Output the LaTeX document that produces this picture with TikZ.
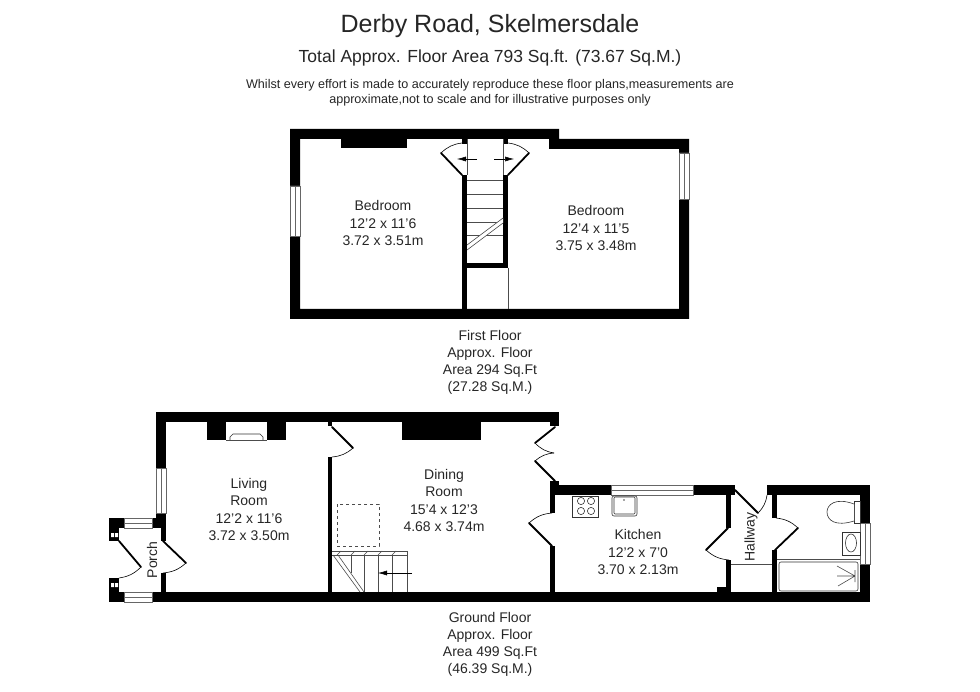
\documentclass[tikz,border=0pt]{standalone}
\usepackage{fontspec}
\setmainfont{Liberation Sans}
\usetikzlibrary{arrows.meta}
\tikzset{
  wall/.style={fill=black,draw=none},
  leaf/.style={line width=1.8pt,line cap=round},
  swing/.style={line width=0.6pt},
  glass/.style={fill=white,draw=black!60,line width=0.6pt},
  fitting/.style={draw=black!80,line width=0.6pt,fill=white},
  tread/.style={draw=black!70,line width=0.6pt},
  pointer/.style={-{Latex[length=9pt,width=5pt]},line width=0.5pt},
  label/.style={align=center,font=\fontsize{14}{17.2}\selectfont,text=black!85,inner sep=0pt}
}
\begin{document}
\begin{tikzpicture}[x=1pt,y=-1pt]
  \useasboundingbox (0,0) rectangle (980,692);

  % headings
  \node (title) [label,font=\fontsize{25}{29}\selectfont] at (490,26) {Derby Road, Skelmersdale};
  \node (area)  [label,font=\fontsize{17.5}{21}\selectfont] at (490,58) {Total Approx. Floor Area 793 Sq.ft. (73.67 Sq.M.)};
  \node (note)  [label,font=\fontsize{12.6}{15}\selectfont] at (490,92.5) {Whilst every effort is made to accurately reproduce these floor plans,measurements are\\approximate,not to scale and for illustrative purposes only};

  % first floor
  \fill[wall,even odd rule] (290,129) -- (559,129) -- (559,139) -- (689,139) -- (689,319) -- (290,319) -- cycle
        (300,139) -- (549,139) -- (549,149) -- (679,149) -- (679,309) -- (300,309) -- cycle;
  \fill[wall] (341,139) rectangle (407,148);
  \fill[wall] (462,139) rectangle (467,144);
  \fill[wall] (503,139) rectangle (508,144);
  \fill[wall] (462,175) rectangle (467,309);
  \fill[wall] (503,175) rectangle (508,268);
  \fill[wall] (467,263) rectangle (503,268);
  \draw[tread] (508,268) -- (508,309);
  \draw[glass] (290,186) rectangle (300,236) (295,186) -- (295,236);
  \draw[glass] (679,153) rectangle (689,199) (684,153) -- (684,199);
  \foreach \y in {180,194,208,222,235}
    \draw[tread] (467,\y) -- (503,\y);
  \draw[tread] (467,139) -- (467,175) (503,139) -- (503,175);
  \fill[white] (467,245) -- (503,218) -- (503,223) -- (467,250) -- cycle;
  \draw[tread] (467,245) -- (503,218) (467,250) -- (503,223);
  \draw[leaf] (462,175) -- (441,153);
  \draw[swing] (441,153) to[bend left=18] (462,143);
  \draw[leaf] (508,175) -- (529,153);
  \draw[swing] (529,153) to[bend right=18] (508,143);
  \draw[pointer] (477,159) -- (457,159);
  \draw[pointer] (494,159) -- (514,159);

  \node (bed1) [label] at (383,223) {Bedroom\\12'2 x 11'6\\3.72 x 3.51m};
  \node (bed2) [label] at (596,228) {Bedroom\\12'4 x 11'5\\3.75 x 3.48m};
  \node (first) [label] at (490,362.5) {First Floor\\Approx. Floor\\Area 294 Sq.Ft\\(27.28 Sq.M.)};

  % ground floor, outer walls
  \fill[wall] (156,412) rectangle (559,422);
  \fill[wall] (156,412) rectangle (166,528);
  \fill[wall] (161,528) rectangle (166,541);
  \fill[wall] (161,573) rectangle (166,592);
  \fill[wall] (109,592) rectangle (870,602);
  \fill[wall] (109,518) rectangle (166,528);
  \fill[wall] (109,528) rectangle (119,541);
  \fill[wall] (109,578) rectangle (119,592);
  \fill[white] (111,533) rectangle (114,537) (115,533) rectangle (118,537);
  \fill[white] (111,583) rectangle (114,587) (115,583) rectangle (118,587);
  \draw[glass] (156,468) rectangle (166,513) (161,468) -- (161,513);
  \draw[glass] (124,518) rectangle (152,528) (124,523) -- (152,523);
  \draw[glass] (124,592) rectangle (152,602) (124,597) -- (152,597);

  % living room
  \fill[wall] (207,422) rectangle (226,440);
  \fill[wall] (267,422) rectangle (286,440);
  \draw[fitting] (230,440) -- (230,437) to[bend left=20] (233,434) -- (260,434) to[bend left=20] (263,437) -- (263,440);
  \draw[tread] (226,440) -- (267,440);
  \fill[wall] (328,422) rectangle (332,426);
  \fill[wall] (328,457) rectangle (332,592);
  \draw[leaf] (332,427) -- (353,448);
  \draw[swing] (353,448) to[bend left=18] (332,457);
  \draw[leaf] (119,541) -- (141,567);
  \draw[swing] (141,567) to[bend left=18] (119,578);
  \draw[leaf] (163,541) -- (186,563);
  \draw[swing] (186,563) to[bend left=18] (163,573);

  \node (living) [label] at (249,509.5) {Living\\Room\\12'2 x 11'6\\3.72 x 3.50m};
  \node (porch) [label,rotate=90] at (152,560) {Porch};

  % dining room
  \fill[wall] (402,422) rectangle (481,440);
  \fill[wall] (550,422) rectangle (559,426);
  \fill[wall] (550,481) rectangle (559,495);
  \fill[wall] (550,495) rectangle (555,513);
  \fill[wall] (550,546) rectangle (555,592);
  \draw[leaf] (555,427) -- (535,443);
  \draw[swing] (535,443) to[bend right=18] (554,453);
  \draw[leaf] (555,481) -- (535,461);
  \draw[swing] (535,461) to[bend left=18] (554,453);
  \draw[leaf] (552,546) -- (529,523);
  \draw[swing] (529,523) to[bend left=18] (552,513);
  \draw[black!70,dashed,line width=0.7pt] (337,504) rectangle (379,546);
  \draw[tread] (332,551) -- (407,551) -- (407,592) (332,555) -- (407,555);
  \foreach \x in {337,351,364,378,392}
    \draw[tread] (\x,555) -- (\x+4,551);
  \foreach \x in {364,378,392}
    \draw[tread] (\x,555) -- (\x,592);
  \draw[tread] (351,555) -- (351,573);
  \draw[tread] (333,555) -- (360,592) (338,555) -- (364,592);
  \draw[pointer] (412,573) -- (378,573);

  \node (dining) [label] at (444,500.5) {Dining\\Room\\15'4 x 12'3\\4.68 x 3.74m};

  % kitchen
  \fill[wall] (550,485) rectangle (735,495);
  \draw[glass] (611,485) rectangle (693,495) (611,490) -- (693,490);
  \fill[wall] (726,495) rectangle (731,528);
  \fill[wall] (726,560) rectangle (731,592);
  \fill[wall] (717,587) rectangle (726,592);
  \draw[leaf] (728,528) -- (706,550);
  \draw[swing] (706,550) to[bend right=18] (729,560);
  \draw[fitting] (572,496) rectangle (598,517);
  \foreach \x in {581,591}
    \foreach \y in {501,511}
      \draw[fitting] (\x,\y) circle (3.6);
  \draw[fitting,rounded corners=2pt] (612,496) rectangle (637,516);
  \draw[fitting,rounded corners=1pt] (614,497) rectangle (635,514);
  \fill[black!70] (624,500) circle (0.9);

  \node (kitchen) [label] at (638,552) {Kitchen\\12'2 x 7'0\\3.70 x 2.13m};

  % hallway and bathroom
  \fill[wall] (767,485) rectangle (870,495);
  \fill[wall] (772,495) rectangle (777,518);
  \fill[wall] (772,550) rectangle (777,592);
  \fill[wall] (860,495) rectangle (870,523);
  \fill[wall] (860,564) rectangle (870,592);
  \draw[glass] (860,523) rectangle (870,564) (865,523) -- (865,564);
  \draw[leaf] (735,490) -- (758,513);
  \draw[swing] (758,513) to[bend right=18] (767,495);
  \draw[leaf] (775,550) -- (798,528);
  \draw[swing] (798,528) to[bend right=18] (776,518);
  \draw[tread] (731,564) -- (772,564);

  \draw[fitting] (854,501) rectangle (860,523);
  \draw[fitting] (854,504) .. controls (835,497) and (827,505) .. (827,512) .. controls (827,520) and (835,527) .. (854,521);
  \draw[fitting] (842,532) rectangle (860,555);
  \draw[fitting] (851,543) ellipse (5.5 and 9);
  \draw[tread] (777,559) -- (860,559);
  \draw[fitting,rounded corners=2pt] (779,562) rectangle (858,591);
  \draw[tread] (855,576) -- (837,566) (855,576) -- (837,576) (855,576) -- (838,586) (855,570) -- (855,582);

  \node (hallway) [label,rotate=90] at (751,537) {Hallway};
  \node (ground) [label] at (490,644.5) {Ground Floor\\Approx. Floor\\Area 499 Sq.Ft\\(46.39 Sq.M.)};
\end{tikzpicture}
\end{document}
